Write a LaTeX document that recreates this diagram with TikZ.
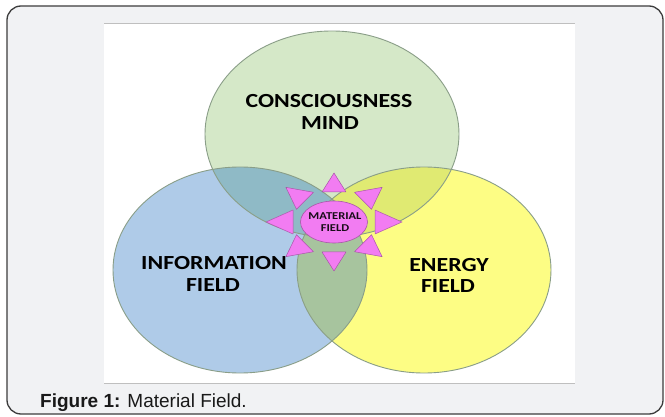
\documentclass[tikz,border=0pt]{standalone}
\usepackage{fontspec}
\setmainfont{Liberation Sans}
\newfontfamily\labfont[FakeStretch=1.19]{Carlito}
\usetikzlibrary{calc,shapes.geometric}
\definecolor{pageBg}{HTML}{F1F2F4}
\definecolor{frameC}{HTML}{3C3C3C}
\definecolor{blueF}{HTML}{AFCBE8}
\definecolor{yellowF}{HTML}{FDFD84}
\definecolor{greenF}{HTML}{D5E8C8}
\definecolor{gbF}{HTML}{8FBAC6}
\definecolor{gyF}{HTML}{E0EA72}
\definecolor{byF}{HTML}{A7C49E}
\definecolor{gbyF}{HTML}{9AB89A}
\definecolor{edgeC}{HTML}{8A9E88}
\definecolor{magF}{HTML}{F27CF2}
\definecolor{magE}{HTML}{A858A8}
\tikzset{
  frame/.style={draw=frameC, line width=1.3pt, fill=pageBg, rounded corners=14pt},
  setedge/.style={draw=edgeC, line width=0.9pt},
  biglabel/.style={font=\labfont\bfseries\fontsize{20}{24}\selectfont, align=center, text=black, inner sep=0pt},
  smalllabel/.style={font=\labfont\bfseries\fontsize{10.5}{12}\selectfont, align=center, text=black!85!magE, inner sep=0pt},
  raytri/.style={fill=magF, draw=magE, line width=0.5pt, line join=round},
  caption/.style={font=\fontsize{19}{22}\selectfont, anchor=base west, inner sep=0pt, text=black!90}
}
\def\ellG{(332,134) ellipse [x radius=127pt, y radius=103pt]}
\def\ellB{(240,270) ellipse [x radius=127pt, y radius=103pt]}
\def\ellY{(424,270) ellipse [x radius=127pt, y radius=103pt]}
\begin{document}
\begin{tikzpicture}[x=1pt,y=-1pt]
\useasboundingbox (0,0) rectangle (665,417);
\fill[white] (0,0) rectangle (665,417);
\path[frame] (7,6) rectangle (663,414);
% white picture area
\fill[white] (104,23) rectangle (575,383);
\draw[black!25, line width=0.8pt] (104,23) -- (575,23);
\draw[black!25, line width=0.8pt] (104,383) -- (575,383);
% sets
\fill[blueF] \ellB;
\fill[yellowF] \ellY;
\fill[greenF] \ellG;
\begin{scope}\clip \ellB; \fill[byF] \ellY; \end{scope}
\begin{scope}\clip \ellG; \fill[gbF] \ellB; \end{scope}
\begin{scope}\clip \ellG; \fill[gyF] \ellY; \end{scope}
\begin{scope}\clip \ellG; \clip \ellB; \fill[gbyF] \ellY; \end{scope}
\draw[setedge] \ellB;
\draw[setedge] \ellY;
\draw[setedge] \ellG;
% labels
\node[biglabel, anchor=base] (cons) at (329,108) {CONSCIOUSNESS};
\node[biglabel, anchor=base] (mind) at (330,130) {MIND};
\node[biglabel, anchor=base] (info) at (214,270) {INFORMATION};
\node[biglabel, anchor=base] (infof) at (213,292) {FIELD};
\node[biglabel, anchor=base] (ener) at (449,272) {ENERGY};
\node[biglabel, anchor=base] (enerf) at (448,293) {FIELD};
% material field burst
\foreach \a in {0,45,...,315}{
  \path[raytri]
    ({334+41*cos(\a)+12*sin(\a)},{222-30*sin(\a)+12*cos(\a)}) --
    ({334+68*cos(\a)},{222-49*sin(\a)}) --
    ({334+41*cos(\a)-12*sin(\a)},{222-30*sin(\a)-12*cos(\a)}) -- cycle;
}
\node[ellipse, draw=magE, fill=magF, line width=0.6pt, minimum width=67pt, minimum height=42pt, inner sep=0pt] (mat) at (334,222) {};
\node[smalllabel] (matl) at (335,222) {MATERIAL\\FIELD};
% caption
\node[caption] (cap) at (40,407) {\textbf{Figure 1:} Material Field.};
\end{tikzpicture}
\end{document}
